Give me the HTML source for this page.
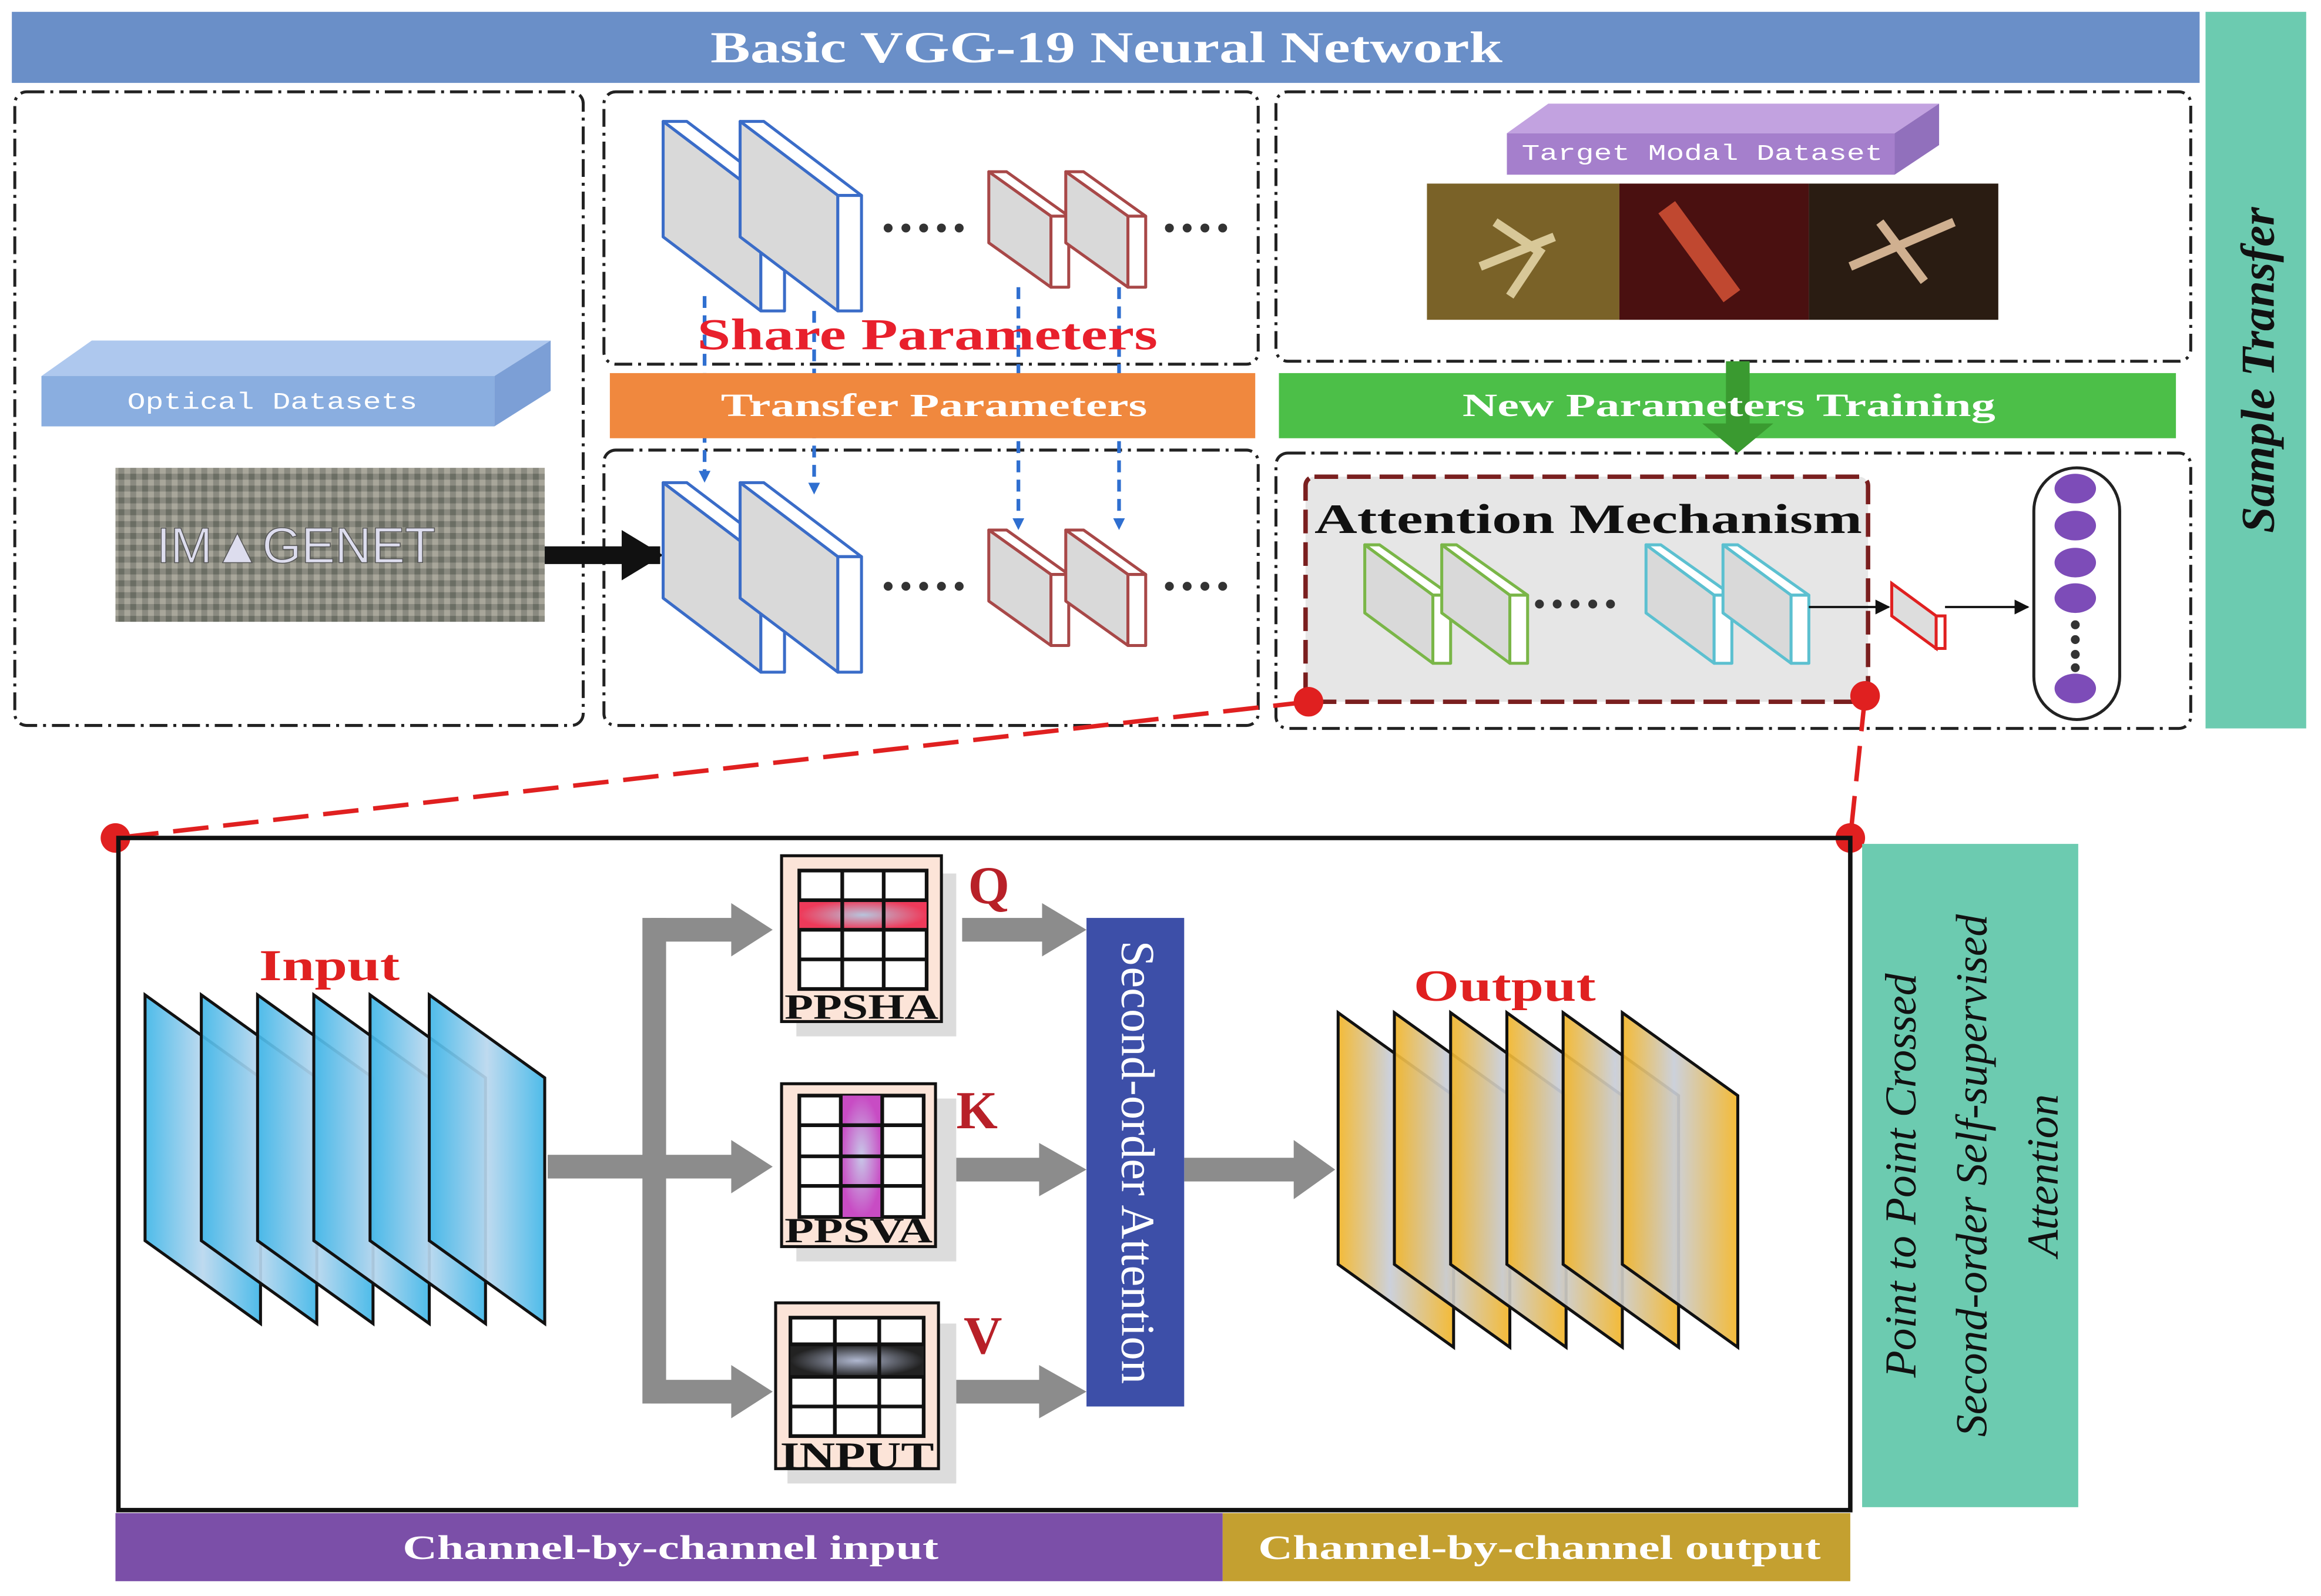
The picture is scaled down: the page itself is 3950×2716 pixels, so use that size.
<!DOCTYPE html>
<html><head><meta charset="utf-8"><style>
html,body{margin:0;padding:0;background:#fff;}
svg{display:block;}
</style></head><body>
<svg width="3950" height="2716" viewBox="0 0 1568 1078" xmlns="http://www.w3.org/2000/svg" preserveAspectRatio="none">
<defs>
<linearGradient id="gb" x1="0" x2="1"><stop offset="0" stop-color="#3fb6e8"/><stop offset="0.5" stop-color="#b9d7ee"/><stop offset="1" stop-color="#3fb6e8"/></linearGradient>
<linearGradient id="gy" x1="0" x2="1"><stop offset="0" stop-color="#f3b526"/><stop offset="0.45" stop-color="#c8cdd8"/><stop offset="1" stop-color="#f3b526"/></linearGradient>
<radialGradient id="rq"><stop offset="0" stop-color="#b8c4dc"/><stop offset="1" stop-color="#ee3a5a"/></radialGradient>
<radialGradient id="rk"><stop offset="0" stop-color="#c8c8e8"/><stop offset="1" stop-color="#c84cc4"/></radialGradient>
<radialGradient id="rv"><stop offset="0" stop-color="#b0b8d0"/><stop offset="1" stop-color="#222"/></radialGradient>
<pattern id="mos" width="8" height="8" patternUnits="userSpaceOnUse"><rect width="8" height="8" fill="#8a8a80"/><rect width="4" height="4" fill="#6b6e64"/><rect x="4" y="4" width="4" height="4" fill="#a8a69a"/></pattern>
<marker id="ab" markerWidth="8" markerHeight="8" refX="4" refY="4" orient="auto" markerUnits="userSpaceOnUse"><path d="M0,0 L8,4 L0,8z" fill="#2f6fd0"/></marker>
<marker id="ak" markerWidth="10" markerHeight="10" refX="9" refY="5" orient="auto" markerUnits="userSpaceOnUse"><path d="M0,0 L10,5 L0,10z" fill="#111"/></marker>
</defs>

<rect x="8" y="8" width="1478" height="48" fill="#6a8fc8"/>
<text x="480" y="42" textLength="535" lengthAdjust="spacingAndGlyphs" font-family="Liberation Serif" font-weight="bold" font-size="30" fill="#fff">Basic VGG-19 Neural Network</text>
<rect x="1490" y="8" width="68" height="484" fill="#6ccbb0"/>
<text transform="translate(1536,250) rotate(-90)" text-anchor="middle" font-family="Liberation Serif" font-style="italic" font-weight="bold" font-size="32" fill="#111">Sample Transfer</text>

<g fill="none" stroke="#222" stroke-width="2" stroke-dasharray="12 4 2 4">
<rect x="10" y="62" width="384" height="428" rx="8"/>
<rect x="408" y="62" width="442" height="184" rx="8"/>
<rect x="408" y="304" width="442" height="186" rx="8"/>
<rect x="862" y="62" width="618" height="182" rx="8"/>
<rect x="862" y="306" width="618" height="186" rx="8"/>
</g>

<g stroke="#2f6fd0" stroke-width="2.5" stroke-dasharray="8 5" marker-end="url(#ab)">
<line x1="476" y1="200" x2="476" y2="322"/><line x1="550" y1="210" x2="550" y2="330"/>
<line x1="688" y1="194" x2="688" y2="354"/><line x1="756" y1="194" x2="756" y2="354"/>
</g>

<rect x="412" y="252" width="436" height="44" fill="#f0883e"/>
<text x="487" y="281" textLength="288" lengthAdjust="spacingAndGlyphs" font-family="Liberation Serif" font-weight="bold" font-size="22" fill="#fff">Transfer Parameters</text>
<rect x="864" y="252" width="606" height="44" fill="#4cbf48"/>
<rect x="1166" y="244" width="16" height="44" fill="#3a9a30"/>
<polygon points="1150,286 1198,286 1174,306" fill="#3a9a30"/>
<text x="988" y="281" textLength="360" lengthAdjust="spacingAndGlyphs" font-family="Liberation Serif" font-weight="bold" font-size="22" fill="#fff">New Parameters Training</text>

<polygon points="28,254 62,230 372,230 334,254" fill="#aec8ee"/>
<polygon points="334,254 372,230 372,264 334,288" fill="#7c9fd6"/>
<rect x="28" y="254" width="306" height="34" fill="#8aaee0"/>
<text x="86" y="276" textLength="196" lengthAdjust="spacingAndGlyphs" font-family="Liberation Mono" font-size="16" fill="#fff">Optical Datasets</text>
<rect x="78" y="316" width="290" height="104" fill="url(#mos)"/>
<text x="200" y="380" text-anchor="middle" font-family="Liberation Sans" font-size="34" fill="#dde" stroke="#555" stroke-width="0.6">IM▲GENET</text>
<line x1="368" y1="375" x2="446" y2="375" stroke="#111" stroke-width="12"/>
<polygon points="420,358 448,375 420,392" fill="#111"/>

<g id="bslab" stroke="#3a6cc8" stroke-width="2" stroke-linejoin="round">
<polygon points="448,82 464,82 530,132 514,132" fill="#fff"/>
<polygon points="448,82 514,132 514,210 448,160" fill="#d9d9d9"/>
<polygon points="514,132 530,132 530,210 514,210" fill="#fff"/>
</g>
<use href="#bslab" x="52"/>
<use href="#bslab" y="244"/>
<use href="#bslab" x="52" y="244"/>
<g id="rslab" stroke="#a84848" stroke-width="2" stroke-linejoin="round">
<polygon points="668,116 680,116 722,146 710,146" fill="#fff"/>
<polygon points="668,116 710,146 710,194 668,164" fill="#d9d9d9"/>
<polygon points="710,146 722,146 722,194 710,194" fill="#fff"/>
</g>
<use href="#rslab" x="52"/>
<use href="#rslab" y="242"/>
<use href="#rslab" x="52" y="242"/>
<g fill="#333">
<circle cx="600" cy="154" r="3"/><circle cx="612" cy="154" r="3"/><circle cx="624" cy="154" r="3"/><circle cx="636" cy="154" r="3"/><circle cx="648" cy="154" r="3"/>
<circle cx="790" cy="154" r="3"/><circle cx="802" cy="154" r="3"/><circle cx="814" cy="154" r="3"/><circle cx="826" cy="154" r="3"/>
<circle cx="600" cy="396" r="3"/><circle cx="612" cy="396" r="3"/><circle cx="624" cy="396" r="3"/><circle cx="636" cy="396" r="3"/><circle cx="648" cy="396" r="3"/>
<circle cx="790" cy="396" r="3"/><circle cx="802" cy="396" r="3"/><circle cx="814" cy="396" r="3"/><circle cx="826" cy="396" r="3"/>
</g>
<text x="471" y="236" textLength="311" lengthAdjust="spacingAndGlyphs" font-family="Liberation Serif" font-weight="bold" font-size="30" fill="#e8202c">Share Parameters</text>

<polygon points="1018,90 1046,70 1310,70 1280,90" fill="#c2a2e0"/>
<polygon points="1280,90 1310,70 1310,98 1280,118" fill="#9170bc"/>
<rect x="1018" y="90" width="262" height="28" fill="#a57fcc"/>
<text x="1028" y="108" textLength="244" lengthAdjust="spacingAndGlyphs" font-family="Liberation Mono" font-size="15" fill="#fff">Target Modal Dataset</text>
<rect x="964" y="124" width="130" height="92" fill="#7a6228"/>
<rect x="1094" y="124" width="128" height="92" fill="#4a1010"/>
<rect x="1222" y="124" width="128" height="92" fill="#2a1c12"/>
<path d="M1010,150 L1040,170 L1020,200 M1000,180 L1050,160" stroke="#d8c898" stroke-width="6" fill="none"/>
<path d="M1126,140 L1170,200" stroke="#c04830" stroke-width="14"/>
<path d="M1250,180 L1320,150 M1270,150 L1300,190" stroke="#d0b090" stroke-width="6"/>

<rect x="882" y="322" width="380" height="152" rx="6" fill="#e6e6e6" stroke="#7a1f1f" stroke-width="3" stroke-dasharray="16 6"/>
<text x="888" y="360" textLength="370" lengthAdjust="spacingAndGlyphs" font-family="Liberation Serif" font-weight="bold" font-size="28" fill="#111">Attention Mechanism</text>
<g id="gslab" stroke="#7ab648" stroke-width="2" stroke-linejoin="round">
<polygon points="922,368 932,368 980,402 968,402" fill="#fff"/>
<polygon points="922,368 968,402 968,448 922,414" fill="#d9d9d9"/>
<polygon points="968,402 980,402 980,448 968,448" fill="#fff"/>
</g>
<use href="#gslab" x="52"/>
<g id="cslab" stroke="#5cc0d0" stroke-width="2" stroke-linejoin="round">
<polygon points="1112,368 1122,368 1170,402 1158,402" fill="#fff"/>
<polygon points="1112,368 1158,402 1158,448 1112,414" fill="#d9d9d9"/>
<polygon points="1158,402 1170,402 1170,448 1158,448" fill="#fff"/>
</g>
<use href="#cslab" x="52"/>
<g fill="#333"><circle cx="1040" cy="408" r="3"/><circle cx="1052" cy="408" r="3"/><circle cx="1064" cy="408" r="3"/><circle cx="1076" cy="408" r="3"/><circle cx="1088" cy="408" r="3"/></g>
<line x1="1222" y1="410" x2="1276" y2="410" stroke="#111" stroke-width="1.5" marker-end="url(#ak)"/>
<g stroke="#e02020" stroke-width="2"><polygon points="1278,394 1308,416 1308,438 1278,416" fill="#ddd"/><polygon points="1308,416 1314,416 1314,438 1308,438" fill="#fff"/></g>
<line x1="1314" y1="410" x2="1370" y2="410" stroke="#111" stroke-width="1.5" marker-end="url(#ak)"/>
<rect x="1374" y="316" width="58" height="170" rx="29" fill="#fff" stroke="#222" stroke-width="2"/>
<g fill="#7d4cb8"><ellipse cx="1402" cy="330" rx="14" ry="10"/><ellipse cx="1402" cy="355" rx="14" ry="10"/><ellipse cx="1402" cy="380" rx="14" ry="10"/><ellipse cx="1402" cy="404" rx="14" ry="10"/><ellipse cx="1402" cy="465" rx="14" ry="10"/></g>
<g fill="#333"><circle cx="1402" cy="422" r="3"/><circle cx="1402" cy="432" r="3"/><circle cx="1402" cy="442" r="3"/><circle cx="1402" cy="451" r="3"/></g>

<g stroke="#e02020" stroke-width="3" stroke-dasharray="24 10"><line x1="884" y1="474" x2="78" y2="566"/><line x1="1260" y1="470" x2="1250" y2="566"/></g>
<g fill="#e02020"><circle cx="884" cy="474" r="10"/><circle cx="1260" cy="470" r="10"/><circle cx="78" cy="566" r="10"/><circle cx="1250" cy="566" r="10"/></g>

<rect x="80" y="566" width="1170" height="454" fill="none" stroke="#111" stroke-width="3"/>
<rect x="1258" y="570" width="146" height="448" fill="#6ccbb0"/>
<g font-family="Liberation Serif" font-style="italic" font-size="30" fill="#111" text-anchor="middle">
<text transform="translate(1294,794) rotate(-90)">Point to Point Crossed</text>
<text transform="translate(1342,794) rotate(-90)">Second-order Self-supervised</text>
<text transform="translate(1390,794) rotate(-90)">Attention</text>
</g>
<rect x="78" y="1022" width="748" height="46" fill="#7b4fa8"/>
<text x="272" y="1053" textLength="362" lengthAdjust="spacingAndGlyphs" font-family="Liberation Serif" font-weight="bold" font-size="23" fill="#fff">Channel-by-channel input</text>
<rect x="826" y="1022" width="424" height="46" fill="#c4a030"/>
<text x="850" y="1053" textLength="380" lengthAdjust="spacingAndGlyphs" font-family="Liberation Serif" font-weight="bold" font-size="23" fill="#fff">Channel-by-channel output</text>

<g stroke="#111" stroke-width="2">
<polygon points="98,672 176,728 176,894 98,838" fill="url(#gb)" fill-opacity="0.92"/>
<polygon points="136,672 214,728 214,894 136,838" fill="url(#gb)" fill-opacity="0.92"/>
<polygon points="174,672 252,728 252,894 174,838" fill="url(#gb)" fill-opacity="0.92"/>
<polygon points="212,672 290,728 290,894 212,838" fill="url(#gb)" fill-opacity="0.92"/>
<polygon points="250,672 328,728 328,894 250,838" fill="url(#gb)" fill-opacity="0.92"/>
<polygon points="290,672 368,728 368,894 290,838" fill="url(#gb)" fill-opacity="0.92"/>
<polygon points="904,684 982,740 982,910 904,854" fill="url(#gy)" fill-opacity="0.92"/>
<polygon points="942,684 1020,740 1020,910 942,854" fill="url(#gy)" fill-opacity="0.92"/>
<polygon points="980,684 1058,740 1058,910 980,854" fill="url(#gy)" fill-opacity="0.92"/>
<polygon points="1018,684 1096,740 1096,910 1018,854" fill="url(#gy)" fill-opacity="0.92"/>
<polygon points="1056,684 1134,740 1134,910 1056,854" fill="url(#gy)" fill-opacity="0.92"/>
<polygon points="1096,684 1174,740 1174,910 1096,854" fill="url(#gy)" fill-opacity="0.92"/>
</g>
<text x="175" y="662" textLength="95" lengthAdjust="spacingAndGlyphs" font-family="Liberation Serif" font-weight="bold" font-size="30" fill="#e02020">Input</text>
<text x="955" y="676" textLength="123" lengthAdjust="spacingAndGlyphs" font-family="Liberation Serif" font-weight="bold" font-size="30" fill="#e02020">Output</text>

<g fill="#8c8c8c">
<rect x="370" y="780" width="70" height="16"/>
<rect x="434" y="620" width="16" height="328"/>
<rect x="440" y="620" width="56" height="16"/><polygon points="494,610 522,628 494,646"/>
<rect x="440" y="780" width="56" height="16"/><polygon points="494,770 522,788 494,806"/>
<rect x="440" y="932" width="56" height="16"/><polygon points="494,922 522,940 494,958"/>
<rect x="650" y="620" width="56" height="16"/><polygon points="704,610 734,628 704,646"/>
<rect x="646" y="782" width="58" height="16"/><polygon points="702,772 734,790 702,808"/>
<rect x="646" y="932" width="58" height="16"/><polygon points="702,922 734,940 702,958"/>
<rect x="800" y="782" width="76" height="16"/><polygon points="874,770 902,790 874,810"/>
</g>

<rect x="538" y="590" width="108" height="110" fill="#dcdcdc"/>
<rect x="528" y="578" width="108" height="112" fill="#fce4d8" stroke="#111" stroke-width="2"/>
<rect x="540" y="588" width="86" height="80" fill="#fff" stroke="#111" stroke-width="2.5"/>
<rect x="540" y="608" width="86" height="20" fill="url(#rq)"/>
<g stroke="#111" stroke-width="2.5"><line x1="569" y1="588" x2="569" y2="668"/><line x1="597" y1="588" x2="597" y2="668"/><line x1="540" y1="608" x2="626" y2="608"/><line x1="540" y1="628" x2="626" y2="628"/><line x1="540" y1="648" x2="626" y2="648"/></g>
<text x="530" y="688" textLength="104" lengthAdjust="spacingAndGlyphs" font-family="Liberation Serif" font-weight="bold" font-size="24" fill="#111">PPSHA</text>
<text x="668" y="610" text-anchor="middle" font-family="Liberation Serif" font-weight="bold" font-size="36" fill="#b82028">Q</text>

<rect x="538" y="742" width="108" height="110" fill="#dcdcdc"/>
<rect x="528" y="732" width="104" height="110" fill="#fce4d8" stroke="#111" stroke-width="2"/>
<rect x="540" y="740" width="84" height="82" fill="#fff" stroke="#111" stroke-width="2.5"/>
<rect x="568" y="740" width="28" height="82" fill="url(#rk)"/>
<g stroke="#111" stroke-width="2.5"><line x1="568" y1="740" x2="568" y2="822"/><line x1="596" y1="740" x2="596" y2="822"/><line x1="540" y1="760" x2="624" y2="760"/><line x1="540" y1="781" x2="624" y2="781"/><line x1="540" y1="801" x2="624" y2="801"/></g>
<text x="530" y="839" textLength="100" lengthAdjust="spacingAndGlyphs" font-family="Liberation Serif" font-weight="bold" font-size="24" fill="#111">PPSVA</text>
<text x="660" y="762" text-anchor="middle" font-family="Liberation Serif" font-weight="bold" font-size="36" fill="#b82028">K</text>

<rect x="532" y="894" width="114" height="108" fill="#dcdcdc"/>
<rect x="524" y="880" width="110" height="112" fill="#fce4d8" stroke="#111" stroke-width="2"/>
<rect x="534" y="890" width="90" height="80" fill="#fff" stroke="#111" stroke-width="2.5"/>
<rect x="534" y="908" width="90" height="22" fill="url(#rv)"/>
<g stroke="#111" stroke-width="2.5"><line x1="564" y1="890" x2="564" y2="970"/><line x1="594" y1="890" x2="594" y2="970"/><line x1="534" y1="908" x2="624" y2="908"/><line x1="534" y1="930" x2="624" y2="930"/><line x1="534" y1="950" x2="624" y2="950"/></g>
<text x="527" y="992" textLength="104" lengthAdjust="spacingAndGlyphs" font-family="Liberation Serif" font-weight="bold" font-size="26" fill="#111">INPUT</text>
<text x="664" y="914" text-anchor="middle" font-family="Liberation Serif" font-weight="bold" font-size="36" fill="#b82028">V</text>

<rect x="734" y="620" width="66" height="330" fill="#3d4fa8"/>
<text transform="translate(758,785) rotate(90)" text-anchor="middle" font-family="Liberation Serif" font-size="32" fill="#fff">Second-order Attention</text>
</svg>
</body></html>
